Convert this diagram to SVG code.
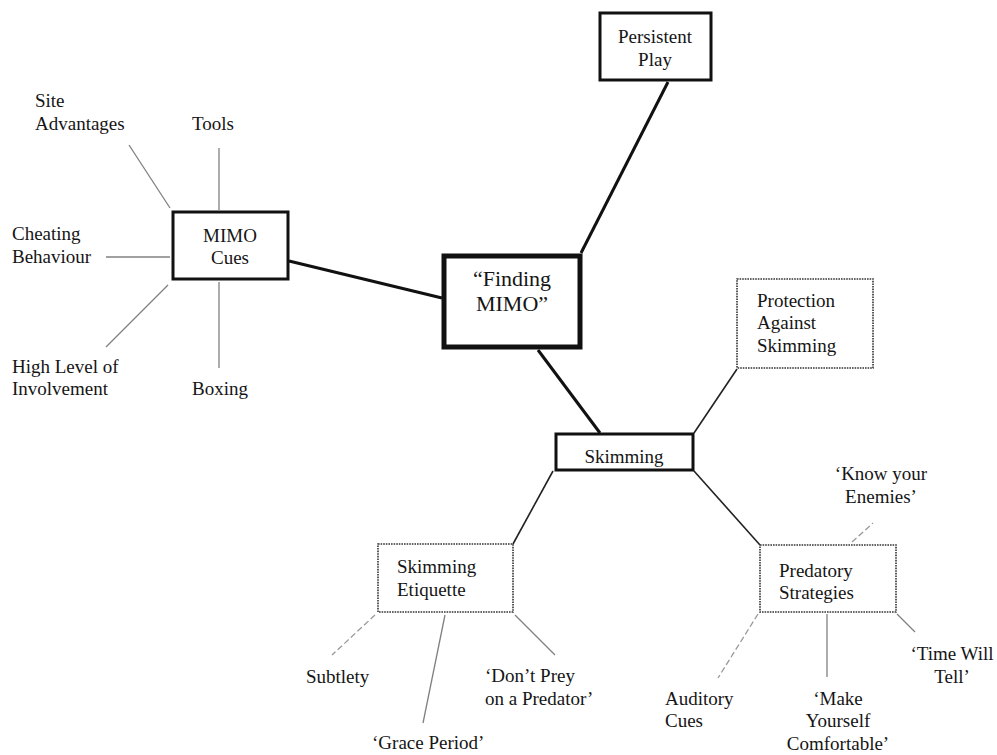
<svg xmlns="http://www.w3.org/2000/svg" width="997" height="755" viewBox="0 0 997 755">
<style>
text{font-family:"Liberation Serif","Times New Roman",serif;font-size:19px;fill:#151515}
.c{text-anchor:middle}
.big{font-size:22px}
.solid{fill:#fff;stroke:#111;stroke-width:3}
.main{fill:#fff;stroke:#111;stroke-width:5}
.dot{fill:#fff;stroke:#333;stroke-width:1.6;stroke-dasharray:1.6 1}
.thick{stroke:#111;stroke-width:3;fill:none}
.mid{stroke:#222;stroke-width:1.6;fill:none}
.spoke{stroke:#808080;stroke-width:1.3;fill:none}
.dash{stroke:#999;stroke-width:1.3;fill:none;stroke-dasharray:6 3}
</style>
<rect width="997" height="755" fill="#fff"/>
<g id="connectors">
<line class="thick" x1="581" y1="253" x2="668" y2="82"/>
<line class="thick" x1="289" y1="261" x2="442" y2="298"/>
<line class="thick" x1="538" y1="350" x2="600" y2="433"/>
<line class="mid" x1="694" y1="433" x2="737" y2="369"/>
<line class="mid" x1="553" y1="471" x2="513" y2="544"/>
<line class="mid" x1="694" y1="471" x2="760" y2="545"/>
<line class="spoke" x1="129" y1="145" x2="170" y2="208"/>
<line class="spoke" x1="219" y1="148" x2="219" y2="210"/>
<line class="spoke" x1="106" y1="257" x2="170" y2="257"/>
<line class="spoke" x1="168" y1="285" x2="106" y2="347"/>
<line class="spoke" x1="219" y1="282" x2="219" y2="368"/>
<line class="dash" x1="375" y1="615" x2="332" y2="655"/>
<line class="spoke" x1="445" y1="615" x2="423" y2="723"/>
<line class="spoke" x1="515" y1="615" x2="555" y2="655"/>
<line class="dash" x1="852" y1="542" x2="873" y2="523"/>
<line class="dash" x1="758" y1="614" x2="718" y2="678"/>
<line class="spoke" x1="827" y1="614" x2="827" y2="677"/>
<line class="spoke" x1="897" y1="614" x2="915" y2="632"/>
</g>
<g id="persistent-play">
<rect class="solid" x="600" y="13" width="111" height="67"/>
<text class="c" x="655" y="43">Persistent</text>
<text class="c" x="655" y="66">Play</text>
</g>
<g id="finding-mimo">
<rect class="main" x="444" y="256" width="136" height="91"/>
<text class="c big" x="512" y="286">“Finding</text>
<text class="c big" x="512" y="311">MIMO”</text>
</g>
<g id="mimo-cues">
<rect class="solid" x="173" y="212" width="115" height="67"/>
<text class="c" x="230" y="242">MIMO</text>
<text class="c" x="230" y="264">Cues</text>
</g>
<g id="site-advantages">
<text x="35" y="107">Site</text>
<text x="35" y="130">Advantages</text>
</g>
<g id="tools"><text x="192" y="130">Tools</text></g>
<g id="cheating-behaviour">
<text x="12" y="240">Cheating</text>
<text x="12" y="263">Behaviour</text>
</g>
<g id="high-level">
<text x="12" y="373">High Level of</text>
<text x="12" y="395">Involvement</text>
</g>
<g id="boxing"><text x="192" y="395">Boxing</text></g>
<g id="protection">
<rect class="dot" x="737" y="279" width="136" height="89"/>
<text x="757" y="307">Protection</text>
<text x="757" y="329">Against</text>
<text x="757" y="352">Skimming</text>
</g>
<g id="skimming">
<rect class="solid" x="556" y="434" width="137" height="36"/>
<text class="c" x="624" y="463">Skimming</text>
</g>
<g id="skimming-etiquette">
<rect class="dot" x="378" y="544" width="135" height="68"/>
<text x="397" y="573">Skimming</text>
<text x="397" y="596">Etiquette</text>
</g>
<g id="predatory-strategies">
<rect class="dot" x="760" y="545" width="136" height="67"/>
<text x="779" y="577">Predatory</text>
<text x="779" y="599">Strategies</text>
</g>
<g id="subtlety"><text x="306" y="683">Subtlety</text></g>
<g id="grace-period"><text x="372" y="749">‘Grace Period’</text></g>
<g id="dont-prey">
<text x="485" y="682">‘Don’t Prey</text>
<text x="485" y="705">on a Predator’</text>
</g>
<g id="know-your-enemies">
<text class="c" x="881" y="480">‘Know your</text>
<text class="c" x="881" y="503">Enemies’</text>
</g>
<g id="time-will-tell">
<text class="c" x="952" y="660">‘Time Will</text>
<text class="c" x="952" y="683">Tell’</text>
</g>
<g id="auditory-cues">
<text x="665" y="705">Auditory</text>
<text x="665" y="727">Cues</text>
</g>
<g id="make-yourself">
<text class="c" x="838" y="705">‘Make</text>
<text class="c" x="838" y="727">Yourself</text>
<text class="c" x="838" y="750">Comfortable’</text>
</g>
</svg>
